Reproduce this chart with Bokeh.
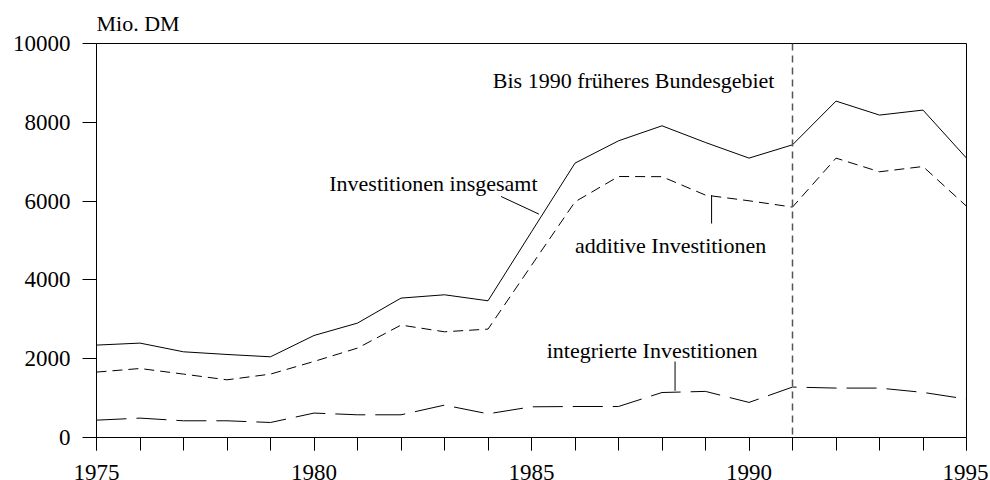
from bokeh.plotting import figure
from bokeh.models import Label, Span, SingleIntervalTicker, FixedTicker, Range1d
from bokeh.embed import file_html
from bokeh.resources import INLINE

years = list(range(1975, 1996))
insgesamt = [2345, 2396, 2175, 2107, 2048, 2589, 2904, 3538, 3622, 3470, 5220,
             6964, 7530, 7911, 7487, 7091, 7429, 8538, 8183, 8310, 7091]
additiv = [1660, 1751, 1609, 1464, 1609, 1930, 2269, 2853, 2683, 2751, 4370,
           5982, 6624, 6620, 6152, 6008, 5848, 7091, 6744, 6878, 5870]
integriert = [440, 492, 424, 424, 381, 620, 576, 576, 822, 601, 779,
              787, 787, 1142, 1170, 890, 1280, 1254, 1254, 1145, 975]

y_ticks = [0, 2000, 4000, 6000, 8000, 10000]
grenze_jahr = 1991

FONT = "Liberation Serif"
FS = "22px"
FS_TICK = "23px"

p = figure(frame_width=870, frame_height=394, output_backend="svg", toolbar_location=None,
           x_range=Range1d(1975, 1995), y_range=Range1d(0, 10000),
           min_border_left=96, min_border_right=22, min_border_top=43, min_border_bottom=43,
           title="Mio. DM")
p.title.text_font = FONT
p.title.text_font_size = FS
p.title.text_font_style = "normal"
p.title.text_color = "black"
p.title.align = "left"
p.title.standoff = 16
p.xgrid.visible = False
p.ygrid.visible = False
p.background_fill_color = "white"
p.border_fill_color = "white"
p.outline_line_color = "black"
p.outline_line_width = 1

p.xaxis.ticker = SingleIntervalTicker(interval=5, num_minor_ticks=5)
p.xaxis.major_tick_out = 13
p.xaxis.major_tick_in = 0
p.xaxis.minor_tick_out = 13
p.xaxis.minor_tick_in = 0
p.xaxis.minor_tick_line_color = "black"
p.xaxis.major_label_standoff = 14
p.yaxis.ticker = FixedTicker(ticks=y_ticks)
p.yaxis.major_tick_out = 14
p.yaxis.major_tick_in = 0
p.yaxis.minor_tick_line_color = None
p.yaxis.major_label_standoff = 12
for ax in (p.xaxis, p.yaxis):
    ax.axis_line_color = "black"
    ax.major_tick_line_color = "black"
    ax.major_label_text_font = FONT
    ax.major_label_text_font_size = FS_TICK
    ax.major_label_text_color = "black"
p.yaxis.formatter.use_scientific = False

p.line(years, insgesamt, line_color="black", line_width=1)
p.line(years, additiv, line_color="black", line_width=1, line_dash="10 6")
p.line(years, integriert, line_color="black", line_width=1, line_dash="30 10")

p.add_layout(Span(location=grenze_jahr, dimension="height", line_color="#555555",
                  line_width=1.5, line_dash="7 5"))

def lab(x, y, text, align="left"):
    p.add_layout(Label(x=x, y=y, text=text, text_font=FONT, text_font_size=FS,
                       text_align=align, text_baseline="alphabetic", text_color="black"))

lab(1984.11, 9053, "Bis 1990 früheres Bundesgebiet")
lab(1985.14, 6447, "Investitionen insgesamt", align="right")
lab(1986.0, 4883, "additive Investitionen")
lab(1985.35, 2200, "integrierte Investitionen")

p.line([1984.30, 1985.17], [6117, 5670], line_color="black", line_width=1)
p.line([1989.14, 1989.14], [6152, 5431], line_color="black", line_width=1)
p.line([1988.30, 1988.30], [1929, 1185], line_color="black", line_width=1)

open("out.html", "w").write(file_html(p, INLINE))
